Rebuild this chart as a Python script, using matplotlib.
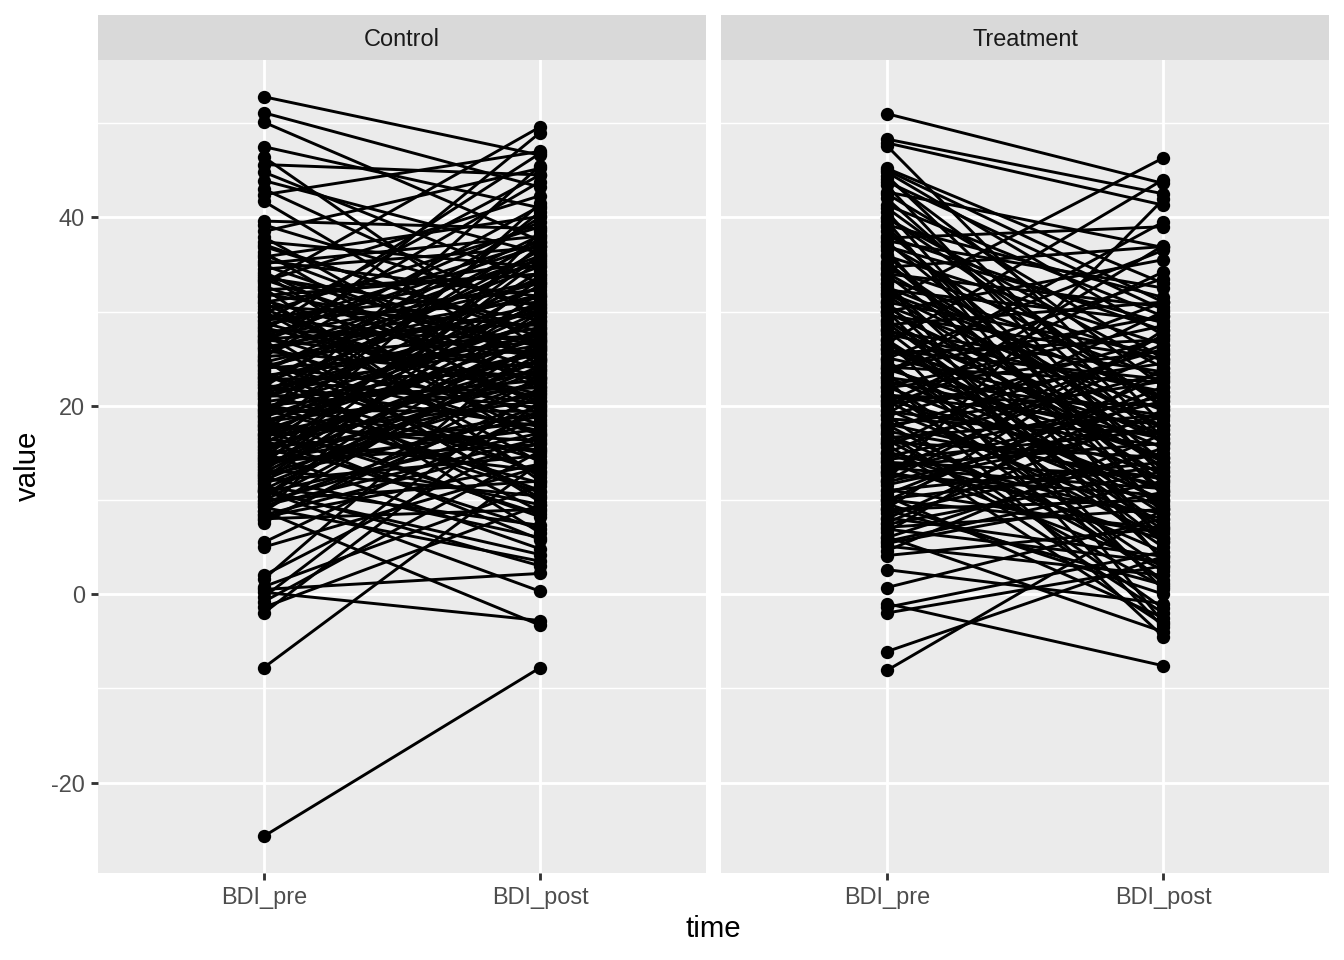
import numpy as np
import matplotlib.pyplot as plt

plt.rcParams['font.family'] = ['Liberation Sans', 'DejaVu Sans']
plt.rcParams['axes.unicode_minus'] = False

# BDI scores, paired pre/post per subject
control_pre = [52.8, 51.1, 50.1, 47.5, 46.4, 45.6, 44.8, 43.9, 43.0, 42.4, 41.7, 39.6, 39.2, 38.5,
               37.9, 37.4, 36.9, 36.3, 35.8, 35.4, 34.9, 34.5, 34.0, 33.6, 33.2, 32.7, 32.3, 31.9,
               31.5, 31.0, 30.6, 30.3, 29.9, 29.5, 29.1, 28.8, 28.4, 28.0, 27.7, 27.3, 27.0, 26.7,
               26.4, 26.1, 25.8, 25.5, 25.2, 24.9, 24.6, 24.3, 24.0, 23.7, 23.4, 23.1, 22.8, 22.5,
               22.2, 21.9, 21.6, 21.3, 21.0, 20.7, 20.4, 20.1, 19.8, 19.5, 19.2, 18.9, 18.6, 18.3,
               18.0, 17.7, 17.4, 17.1, 16.8, 16.5, 16.2, 15.9, 15.6, 15.3, 15.0, 14.7, 14.4, 14.1,
               13.8, 13.5, 13.2, 12.9, 12.6, 12.3, 12.0, 11.7, 11.4, 11.1, 10.8, 10.4, 10.0, 9.6,
               9.2, 8.8, 8.4, 8.0, 7.6, 5.5, 5.0, 2.0, 1.6, 0.8, 0.5, -0.3, -0.8, -1.4, -2.0, -7.8,
               -25.7, 33.0, 25.0, 0.2, 8.8, 11.0, 30.0, 28.6, 27.5, 26.2, 24.8, 23.8, 22.9, 22.0,
               21.1, 20.2, 19.3, 18.4, 17.5, 16.6, 15.7, 14.8, 13.9, 13.0, 12.1, 11.2, 10.3, 9.4,
               8.5, 7.9, 32.5, 34.2, 36.0, 29.0, 27.9, 26.8, 31.2, 23.5, 19.0, 17.0, 14.5,
               26.0, 22.3, 18.8, 15.4, 29.8, 33.8, 12.4, 20.8, 24.4, 27.4, 16.9, 13.3, 10.9, 9.9,
               21.4, 30.9, 35.1, 19.6, 23.2, 28.3, 14.2, 17.8, 25.3, 31.7, 37.1, 11.8, 8.2, 20.0,
               24.2, 15.1, 12.7, 18.1, 26.9, 22.6, 16.3, 9.7, 13.6, 29.4, 33.4, 27.1]
control_post = [46.6, 43.2, 37.5, 41.0, 26.0, 44.5, 33.0, 36.2, 29.5, 47.0, 24.3, 38.8, 30.4, 45.2,
                21.6, 34.7, 27.8, 19.0, 40.1, 31.6, 24.9, 36.8, 15.5, 29.1, 42.3, 22.4, 33.9, 26.7,
                12.4, 35.3, 28.5, 18.6, 39.0, 25.2, 31.0, 20.8, 37.4, 27.0, 9.8, 33.2, 24.0, 43.8,
                16.9, 29.8, 22.9, 35.9, 27.5, 6.5, 31.8, 20.2, 25.9, 38.1, 14.2, 28.3, 23.4, 32.6,
                17.8, 26.4, 11.0, 30.2, 21.9, 36.5, 24.7, 15.0, 28.9, 19.4, 33.7, 25.5, 8.2, 22.1,
                30.8, 16.3, 27.2, 40.6, 20.5, 13.1, 24.6, 34.3, 18.2, 26.1, 4.8, 21.3, 29.4, 15.9,
                37.0, 23.6, 10.4, 27.7, 18.9, 32.0, 14.7, 22.8, 7.3, 25.0, 17.1, 30.0, 12.0, 20.0,
                3.5, 26.8, 16.0, 9.0, 23.0, 19.5, 13.5, 17.0, 27.0, 11.5, 2.2, 22.0, 15.2, 9.5,
                20.5, 14.0, -7.8, 49.6, 49.0, -2.8, -3.3, 0.3, 14.0, 35.0, 18.0, 31.5, 12.8, 34.8,
                19.8, 40.0, 27.6, 10.8, 37.8, 25.8, 5.8, 32.8, 22.5, 41.5, 17.5, 35.5, 24.2, 3.0,
                28.0, 16.5, 38.5, 21.0, 12.0, 20.0, 25.0, 44.5, 46.8, 39.5, 23.0, 8.8, 45.5, 30.0,
                36.0,
                33.0, 13.0, 29.0, 9.5, 20.5, 26.2, 6.0, 30.5, 17.3, 37.0, 23.8, 31.2, 4.2, 25.5,
                35.7, 16.8, 38.0, 11.8, 26.9, 21.2, 19.2, 8.5, 41.2, 34.0, 27.3, 33.5, 13.8, 22.7,
                30.7, 28.2, 21.7, 15.3, 10.2, 37.3, 6.9, 18.4, 26.3, 32.3, 23.8, 28.7]

treat_pre = [51.0, 48.3, 47.9, 47.6, 45.2, 44.8, 44.1, 43.4, 42.7, 42.0, 41.3, 40.6, 39.9, 39.2,
             38.5, 37.8, 37.1, 36.5, 35.9, 35.3, 34.7, 34.1, 33.5, 32.9, 32.3, 31.7, 31.1, 30.6,
             30.1, 29.6, 29.1, 28.6, 28.1, 27.6, 27.1, 26.6, 26.1, 25.6, 25.1, 24.6, 24.1, 23.6,
             23.1, 22.6, 22.1, 21.6, 21.1, 20.6, 20.1, 19.6, 19.1, 18.6, 18.1, 17.6, 17.1, 16.6,
             16.1, 15.6, 15.1, 14.6, 14.1, 13.6, 13.1, 12.6, 12.1, 11.6, 11.1, 10.6, 10.1, 9.6,
             9.1, 8.6, 8.1, 7.6, 7.1, 6.6, 6.1, 5.6, 5.1, 4.6, 4.1, 2.6, 0.7, -1.0, -1.4, -2.0,
             -6.1, -8.1, 40.0, 38.0, 36.0, 34.0, 32.0, 30.0, 28.0, 26.0, 24.0, 22.0, 20.0, 18.0,
             16.0, 14.0, 12.0, 10.0, 8.0, 6.0, 42.5, 37.5, 33.0, 29.0, 25.0, 21.0, 17.0, 13.0,
             9.0, 35.0, 31.0, 27.0, 23.0, 19.0, 15.0, 11.0, 45.0, 39.0, 23.5, 20.5, 26.5, 30.5,
             22.8,
             28.8, 25.9, 22.4, 19.4, 16.4, 13.4, 10.4, 7.4, 31.9, 34.5, 37.4, 41.0, 43.8, 20.9,
             17.9, 14.9, 11.9, 24.9, 27.9, 30.9, 33.9, 36.9, 23.9, 18.9, 15.9, 12.9, 9.9, 6.9,
             5.4, 21.9, 26.9, 29.9, 32.6, 39.6, 44.4, 20.3, 17.3, 14.3, 8.9, 24.3]
treat_post = [43.6, 42.5, 41.3, 18.0, 33.0, 27.5, 22.0, 12.5, 36.8, 16.0, 29.5, 8.5, 24.0, 31.5,
              14.0, 39.0, 20.5, 3.5, 26.5, 11.0, 36.9, 17.5, 23.0, 6.0, 29.0, 13.5, 46.3, 19.5,
              0.5, 25.0, 9.5, 31.0, 15.5, 21.5, -3.5, 44.0, 12.0, 27.0, 18.5, 5.0, 22.5, 33.5,
              10.0, 16.5, 28.5, 1.5, 20.0, 13.0, 24.5, 7.5, 37.0, 17.0, 11.5, 26.0, -2.0, 19.0,
              14.5, 30.0, 8.0, 21.0, 3.0, 16.0, 25.5, 10.5, 41.9, 18.0, 6.5, 22.0, 13.5, 0.0,
              28.0, 15.0, 4.0, 19.5, 9.0, 24.0, -4.0, 12.0, 2.0, 17.0, 7.0, -1.0, 8.0, -7.6,
              4.5, 3.0, 4.0, 9.0, 20.0, 28.0, 9.0, 30.5, 21.0, 35.5, 5.5, 17.0, 29.5, 11.0,
              31.0, 2.5, 23.5, 12.5, 27.5, 7.0, 21.5, 15.5, 25.0, 32.5, -3.0, 14.0, 36.5, 18.0,
              4.5, 20.5, 10.0, 16.0, 25.5, 8.5, 19.0, -1.5, 26.5, 14.0, 31.0, 10.5, 39.5, 6.0,
              14.5, 12.5, -4.5,
              7.2, 22.8, 2.8, 15.8, 0.8, 11.2, -2.5, 13.0, 17.8, 24.8, 13.2, 19.8, 30.2, 9.2,
              22.6, 5.8, 18.8, 1.2, 23.6, 3.8, 11.8, 28.8, 14.6, 27.2, -3.2, 8.6, 23.2, 3.4,
              10.8, 25.8, 6.8, 16.2, 20.8, 5.5, 16.6, 34.2, 12.2, 17.4, 1.0, 9.8]

groups = ["Control", "Treatment"]
times = ["BDI_pre", "BDI_post"]
data = {"Control": (control_pre, control_post), "Treatment": (treat_pre, treat_post)}

W, H = 1344, 960
fig = plt.figure(figsize=(7, 5), dpi=192)

panel_x = [(98, 706), (721, 1329)]
top, bottom, strip_top = 60, 873, 15

for i, g in enumerate(groups):
    x0, x1 = panel_x[i]
    ax = fig.add_axes([x0 / W, 1 - bottom / H, (x1 - x0) / W, (bottom - top) / H])
    ax.set_facecolor("#EBEBEB")
    for s in ax.spines.values():
        s.set_visible(False)
    ax.set_xlim(0.4, 2.6)
    ax.set_ylim(-29.6, 56.7)
    for yv in [-10, 10, 30, 50]:
        ax.axhline(yv, color="white", lw=0.55, zorder=0)
    for yv in [-20, 0, 20, 40]:
        ax.axhline(yv, color="white", lw=1.07, zorder=0)
    for xv in [1, 2]:
        ax.axvline(xv, color="white", lw=1.07, zorder=0)

    pre, post = data[g]
    for a, b in zip(pre, post):
        ax.plot([1, 2], [a, b], color="black", lw=1.1, zorder=2)
    ax.plot(np.ones(len(pre)), pre, "o", color="black", ms=5.0, mew=0, zorder=3)
    ax.plot(np.full(len(post), 2), post, "o", color="black", ms=5.0, mew=0, zorder=3)

    ax.set_xticks([1, 2])
    ax.set_xticklabels(times)
    ax.set_yticks([-20, 0, 20, 40])
    ax.tick_params(colors="#333333", labelcolor="#4D4D4D", labelsize=8.8, length=2.75,
                   width=1.07, pad=2.2)
    if i == 1:
        ax.tick_params(axis="y", left=False, labelleft=False)

    sax = fig.add_axes([x0 / W, 1 - top / H, (x1 - x0) / W, (top - strip_top) / H])
    sax.set_facecolor("#D9D9D9")
    sax.set_xticks([])
    sax.set_yticks([])
    for s in sax.spines.values():
        s.set_visible(False)
    sax.text(0.5, 0.46, g, ha="center", va="center", fontsize=8.8, color="#1A1A1A",
             transform=sax.transAxes)

fig.text(713 / W, 1 - 929 / H, "time", ha="center", va="center", fontsize=11)
fig.text(28 / W, 1 - 466 / H, "value", ha="center", va="center", fontsize=11, rotation=90)

fig.savefig("out.png", dpi=192, facecolor="white")
